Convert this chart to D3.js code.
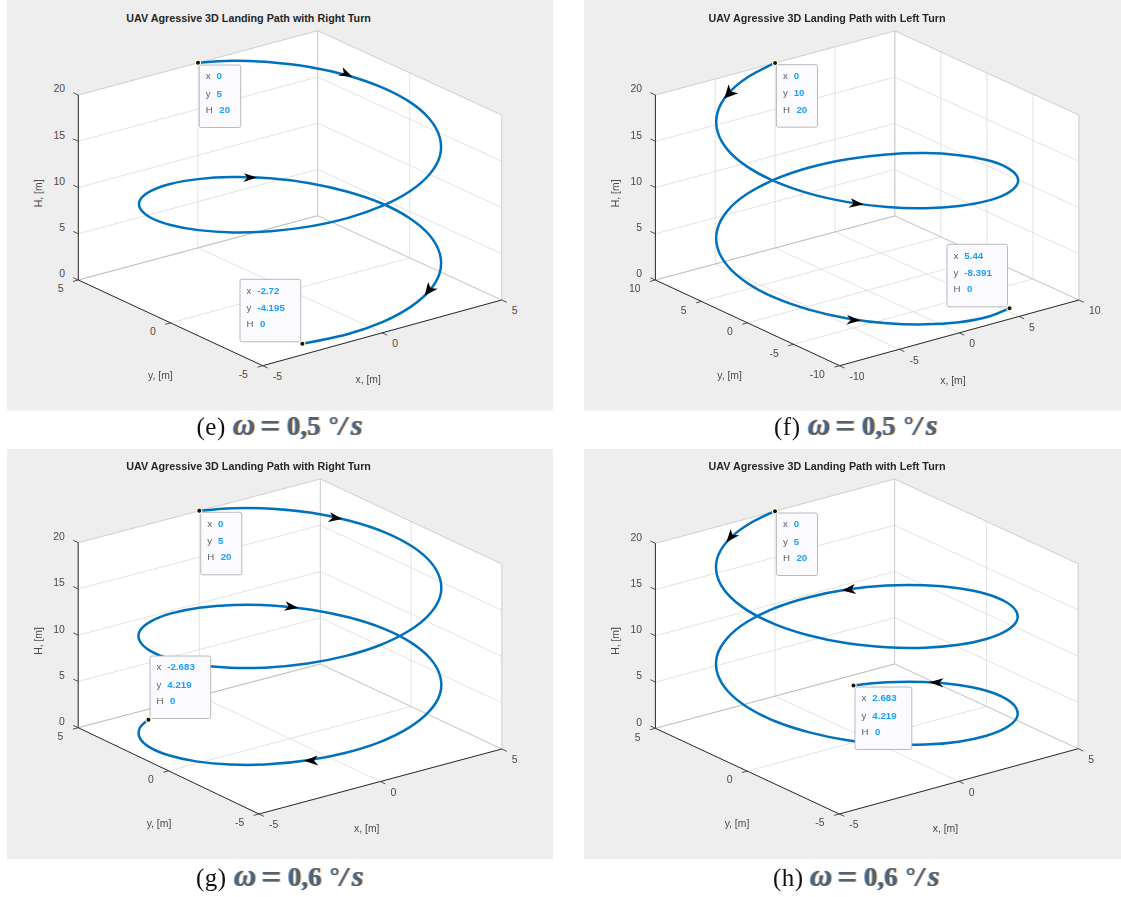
<!DOCTYPE html>
<html><head><meta charset="utf-8">
<script src="https://cdn.jsdelivr.net/npm/d3@7/dist/d3.min.js"></script>
<style>
html,body{margin:0;padding:0;background:#fff;overflow:hidden}
svg{display:block;filter:blur(0.3px)}
text{font-family:"Liberation Sans",Arial,sans-serif}
.tick{font-size:10.4px;fill:#4a4a4a}
.axl{font-size:10.4px;fill:#4a4a4a}
.title{font-size:10.75px;font-weight:bold;fill:#262626}
.tipL{font-size:9.7px;fill:#606060}
.tipV{font-size:9.7px;font-weight:bold;fill:#1a9fff}
.capA{font-family:"Liberation Serif",serif;font-size:25px;letter-spacing:.5px;fill:#111}
.capB{font-family:"Liberation Serif",serif;font-size:25px;font-weight:bold;fill:#56616e;text-shadow:0.9px 0 0 rgba(225,150,60,.6),-0.9px 0 0 rgba(50,120,215,.6)}
</style></head><body>
<script>
// ---- readings ----
const tickH=[0,5,10,15,20];
const ticksFive=[-5,0,5];
const ticksTen=[-10,-5,0,5,10];

const ePathX=[0,1.29,2.5,3.54,4.33,4.83,5,4.83,4.33,3.54,2.5,1.29,0,-1.29,-2.5,-3.54,-4.33,-4.83,-5,-4.83,-4.33,-3.54,-2.5,-1.29,0,1.29,2.5,3.54,4.33,4.83,5,4.83,4.33,3.54,2.5,1.29,0,-1.29,-2.72];
const ePathY=[5,4.83,4.33,3.54,2.5,1.29,0,-1.29,-2.5,-3.54,-4.33,-4.83,-5,-4.83,-4.33,-3.54,-2.5,-1.29,0,1.29,2.5,3.54,4.33,4.83,5,4.83,4.33,3.54,2.5,1.29,0,-1.29,-2.5,-3.54,-4.33,-4.83,-5,-4.83,-4.195];
const ePathH=[20,19.48,18.95,18.43,17.91,17.38,16.86,16.34,15.81,15.29,14.76,14.24,13.72,13.19,12.67,12.15,11.62,11.1,10.58,10.05,9.53,9,8.48,7.96,7.43,6.91,6.39,5.86,5.34,4.82,4.29,3.77,3.25,2.72,2.2,1.68,1.15,0.63,0];

const fPathX=[0,-2.59,-5,-7.07,-8.66,-9.66,-10,-9.66,-8.66,-7.07,-5,-2.59,0,2.59,5,7.07,8.66,9.66,10,9.66,8.66,7.07,5,2.59,0,-2.59,-5,-7.07,-8.66,-9.66,-10,-9.66,-8.66,-7.07,-5,-2.59,0,2.59,5.44];
const fPathY=[10,9.66,8.66,7.07,5,2.59,0,-2.59,-5,-7.07,-8.66,-9.66,-10,-9.66,-8.66,-7.07,-5,-2.59,0,2.59,5,7.07,8.66,9.66,10,9.66,8.66,7.07,5,2.59,0,-2.59,-5,-7.07,-8.66,-9.66,-10,-9.66,-8.391];
const fPathH=[20,19.48,18.95,18.43,17.91,17.38,16.86,16.34,15.81,15.29,14.76,14.24,13.72,13.19,12.67,12.15,11.62,11.1,10.58,10.05,9.53,9,8.48,7.96,7.43,6.91,6.39,5.86,5.34,4.82,4.29,3.77,3.25,2.72,2.2,1.68,1.15,0.63,0];

const gPathX=[0,1.29,2.5,3.54,4.33,4.83,5,4.83,4.33,3.54,2.5,1.29,0,-1.29,-2.5,-3.54,-4.33,-4.83,-5,-4.83,-4.33,-3.54,-2.5,-1.29,0,1.29,2.5,3.54,4.33,4.83,5,4.83,4.33,3.54,2.5,1.29,0,-1.29,-2.5,-3.54,-4.33,-4.83,-5,-4.83,-4.33,-3.54,-2.683];
const gPathY=[5,4.83,4.33,3.54,2.5,1.29,0,-1.29,-2.5,-3.54,-4.33,-4.83,-5,-4.83,-4.33,-3.54,-2.5,-1.29,0,1.29,2.5,3.54,4.33,4.83,5,4.83,4.33,3.54,2.5,1.29,0,-1.29,-2.5,-3.54,-4.33,-4.83,-5,-4.83,-4.33,-3.54,-2.5,-1.29,0,1.29,2.5,3.54,4.219];
const gPathH=[20,19.56,19.13,18.69,18.25,17.82,17.38,16.95,16.51,16.07,15.64,15.2,14.76,14.33,13.89,13.46,13.02,12.58,12.15,11.71,11.27,10.84,10.4,9.96,9.53,9.09,8.66,8.22,7.78,7.35,6.91,6.47,6.04,5.6,5.17,4.73,4.29,3.86,3.42,2.98,2.55,2.11,1.68,1.24,0.8,0.37,0];

const hPathX=[0,-1.29,-2.5,-3.54,-4.33,-4.83,-5,-4.83,-4.33,-3.54,-2.5,-1.29,0,1.29,2.5,3.54,4.33,4.83,5,4.83,4.33,3.54,2.5,1.29,0,-1.29,-2.5,-3.54,-4.33,-4.83,-5,-4.83,-4.33,-3.54,-2.5,-1.29,0,1.29,2.5,3.54,4.33,4.83,5,4.83,4.33,3.54,2.683];
const hPathY=[5,4.83,4.33,3.54,2.5,1.29,0,-1.29,-2.5,-3.54,-4.33,-4.83,-5,-4.83,-4.33,-3.54,-2.5,-1.29,0,1.29,2.5,3.54,4.33,4.83,5,4.83,4.33,3.54,2.5,1.29,0,-1.29,-2.5,-3.54,-4.33,-4.83,-5,-4.83,-4.33,-3.54,-2.5,-1.29,0,1.29,2.5,3.54,4.219];
const hPathH=[20,19.56,19.13,18.69,18.25,17.82,17.38,16.95,16.51,16.07,15.64,15.2,14.76,14.33,13.89,13.46,13.02,12.58,12.15,11.71,11.27,10.84,10.4,9.96,9.53,9.09,8.66,8.22,7.78,7.35,6.91,6.47,6.04,5.6,5.17,4.73,4.29,3.86,3.42,2.98,2.55,2.11,1.68,1.24,0.8,0.37,0];

const eArrowX=[4.41,2.11,2.15], eArrowY=[2.35,4.53,-4.51], eArrowH=[17.84,6.56,2.04];
const fArrowX=[-5.52,-6.29,-6.43], fArrowY=[8.34,-7.77,-7.66], fArrowH=[18.83,15.08,2.55];
const gArrowX=[4.19,3.21,-2.6], gArrowY=[2.72,3.83,-4.27], gArrowH=[18.34,8.36,3.38];
const hArrowX=[-2.58,2.35,4.41], hArrowY=[4.29,4.41,2.35], hArrowH=[19.1,10.34,0.86];

const titleRight="UAV Agressive 3D Landing Path with Right Turn";
const titleLeft="UAV Agressive 3D Landing Path with Left Turn";

const eTipValues=[["0","5","20"],["-2.72","-4.195","0"]];
const fTipValues=[["0","10","20"],["5.44","-8.391","0"]];
const gTipValues=[["0","5","20"],["-2.683","4.219","0"]];
const hTipValues=[["0","5","20"],["2.683","4.219","0"]];

// ---- layout ----
const panels=[
 {bg:[7,0,546,410.5],front:[262.7,365.7],left:[78.3,280],right:[501.7,300],back:[317.7,215.7],top:185,domain:[-5,5],ticks:ticksFive,
  X:ePathX,Y:ePathY,H:ePathH,aX:eArrowX,aY:eArrowY,aH:eArrowH,title:titleRight,titleX:248.6,titleY:18,
  heads:[[[-14.3,-1.3],[-9.6,-9.7]],[[-13.2,-4.3],[-13.9,4.3]],[[3.6,-13.7],[13.2,-7]]],
  tips:eTipValues,boxes:[[199.3,65,41.4],[240,279.3,60.7]],
  hLab:[38.2,193.3],yLab:[160.4,375.7],xLab:[368.2,379.7],
  cap:"(e)",capX:196.5,capY:435,omega:"ω",digits:"0,5",formX:233},
 {bg:[584,0,537,410.5],front:[839.6,365.7],left:[655.4,280],right:[1078.9,300],back:[894.8,215.9],top:185,domain:[-10,10],ticks:ticksTen,
  X:fPathX,Y:fPathY,H:fPathH,aX:fArrowX,aY:fArrowY,aH:fArrowH,title:titleLeft,titleX:827,titleY:18,
  heads:[[[4.3,-14.3],[13.9,-5.3]],[[-12.5,-6.3],[-15,3.3]],[[-13.6,-5.3],[-14.3,4]]],
  tips:fTipValues,boxes:[[776.4,64.7,41.1],[947,244.3,60.5]],
  hLab:[615.4,193.3],yLab:[729.6,375.7],xLab:[952.9,380.7],
  cap:"(f)",capX:774,capY:435,omega:"ω",digits:"0,5",formX:808},
 {bg:[7,449,546,410],front:[259,814],left:[78.2,727.7],right:[501.8,749],back:[320.4,664],top:185,domain:[-5,5],ticks:ticksFive,
  X:gPathX,Y:gPathY,H:gPathH,aX:gArrowX,aY:gArrowY,aH:gArrowH,title:titleRight,titleX:248.6,titleY:466,
  heads:[[[-11.8,-6.7],[-14.3,3]],[[-12.5,-6.7],[-14.3,2.7]],[[13.6,-5.3],[14.3,4.7]]],
  tips:gTipValues,boxes:[[200.7,512.3,41.1],[150,656,60.7]],
  hLab:[38.2,641],yLab:[159,823.7],xLab:[366.8,828.7],
  cap:"(g)",capX:196,capY:885.5,omega:"ω",digits:"0,6",formX:234},
 {bg:[584,449,537,410],front:[839.3,814],left:[655.4,728.3],right:[1078.2,748.7],back:[894.6,664],top:185,domain:[-5,5],ticks:ticksFive,
  X:hPathX,Y:hPathY,H:hPathH,aX:hArrowX,aY:hArrowY,aH:hArrowH,title:titleLeft,titleX:827,titleY:466,
  heads:[[[4.3,-13],[12.9,-7]],[[12.5,-6.3],[14.3,3.7]],[[14.3,-4],[14.3,5.3]]],
  tips:hTipValues,boxes:[[776.4,513,41.1],[855,687,56.8]],
  hLab:[615.4,641],yLab:[737,823.7],xLab:[945.4,828.7],
  cap:"(h)",capX:773,capY:885.5,omega:"ω",digits:"0,6",formX:810}
];

const svg=d3.select("body").append("svg").attr("width",1121).attr("height",897);
const gridCol="#dcdcdc", edgeCol="#cfcfcf", axisCol="#2b2b2b", lineCol="#0072bd";

panels.forEach(p=>{
  const g=svg.append("g");
  g.append("rect").attr("x",p.bg[0]).attr("y",p.bg[1]).attr("width",p.bg[2]).attr("height",p.bg[3]).attr("fill","#eeeeee");
  const sx=d3.scaleLinear().domain(p.domain).range([0,1]);
  const sy=d3.scaleLinear().domain(p.domain).range([0,1]);
  const sh=d3.scaleLinear().domain([0,20]).range([0,p.top]);
  const [d0,d1]=p.domain;
  const proj=(x,y,h)=>{
    const u=sx(x), v=sy(y);
    const mix=k=>(1-u)*(1-v)*p.front[k]+u*(1-v)*p.right[k]+(1-u)*v*p.left[k]+u*v*p.back[k];
    return [mix(0),mix(1)-sh(h)];
  };
  const seg=(a,b,col,w)=>g.append("line").attr("x1",a[0]).attr("y1",a[1]).attr("x2",b[0]).attr("y2",b[1]).attr("stroke",col).attr("stroke-width",w||0.8);
  const poly=pts=>g.append("polygon").attr("points",pts.map(q=>q.join(",")).join(" ")).attr("fill","#fff");
  // walls and floor
  poly([proj(d0,d1,0),proj(d1,d1,0),proj(d1,d0,0),proj(d0,d0,0)]);
  poly([proj(d0,d1,0),proj(d1,d1,0),proj(d1,d1,20),proj(d0,d1,20)]);
  poly([proj(d1,d1,0),proj(d1,d0,0),proj(d1,d0,20),proj(d1,d1,20)]);
  // grid
  p.ticks.forEach(t=>{
    seg(proj(t,d0,0),proj(t,d1,0),gridCol);
    seg(proj(d0,t,0),proj(d1,t,0),gridCol);
    seg(proj(t,d1,0),proj(t,d1,20),gridCol);
    seg(proj(d1,t,0),proj(d1,t,20),gridCol);
  });
  tickH.forEach(t=>{
    seg(proj(d0,d1,t),proj(d1,d1,t),gridCol);
    seg(proj(d1,d1,t),proj(d1,d0,t),gridCol);
  });
  // box edges
  seg(proj(d0,d1,20),proj(d1,d1,20),edgeCol);
  seg(proj(d1,d1,20),proj(d1,d0,20),edgeCol);
  seg(proj(d1,d0,20),proj(d1,d0,0),edgeCol);
  seg(proj(d1,d1,0),proj(d1,d1,20),edgeCol);
  seg(proj(d0,d1,0),proj(d1,d1,0),"#bdbdbd");
  seg(proj(d1,d1,0),proj(d1,d0,0),"#c9c9c9");
  // axes
  seg(proj(d0,d1,0),proj(d0,d1,20),axisCol,1);
  seg(proj(d0,d1,0),proj(d0,d0,0),axisCol,1);
  seg(proj(d0,d0,0),proj(d1,d0,0),axisCol,1);
  const ux=[proj(d1,0,0)[0]-proj(d0,0,0)[0],proj(d1,0,0)[1]-proj(d0,0,0)[1]];
  const uy=[proj(0,d1,0)[0]-proj(0,d0,0)[0],proj(0,d1,0)[1]-proj(0,d0,0)[1]];
  const unit=(v,s)=>{const n=Math.hypot(v[0],v[1]);return [v[0]/n*s,v[1]/n*s];};
  const tx=unit(ux,-5.5), ty=unit(uy,-5.5), tz=unit(uy,5.5);
  p.ticks.forEach(t=>{
    const a=proj(t,d0,0); seg(a,[a[0]+ty[0],a[1]+ty[1]],axisCol,0.8);
    g.append("text").attr("class","tick").attr("x",a[0]+10).attr("y",a[1]+14.3).text(t);
    const b=proj(d0,t,0); seg(b,[b[0]+tx[0],b[1]+tx[1]],axisCol,0.8);
    g.append("text").attr("class","tick").attr("text-anchor","end").attr("x",b[0]-14.8).attr("y",b[1]+12.3).text(t);
  });
  tickH.forEach(t=>{
    const a=proj(d0,d1,t); seg(a,[a[0]+tz[0],a[1]+tz[1]],axisCol,0.8);
    g.append("text").attr("class","tick").attr("text-anchor","end").attr("x",a[0]-13.3).attr("y",a[1]-2.7).text(t);
  });
  // labels
  g.append("text").attr("class","title").attr("text-anchor","middle").attr("x",p.titleX).attr("y",p.titleY+3.7).text(p.title);
  g.append("text").attr("class","axl").attr("text-anchor","middle").attr("transform",`translate(${p.hLab[0]+3.6},${p.hLab[1]}) rotate(-90)`).text("H, [m]");
  g.append("text").attr("class","axl").attr("text-anchor","middle").attr("x",p.yLab[0]).attr("y",p.yLab[1]+3.7).text("y, [m]");
  g.append("text").attr("class","axl").attr("text-anchor","middle").attr("x",p.xLab[0]).attr("y",p.xLab[1]+3.7).text("x, [m]");
  // path
  const pts=p.X.map((x,i)=>proj(x,p.Y[i],p.H[i]));
  g.append("path").attr("d",d3.line().curve(d3.curveCatmullRom.alpha(0))(pts))
    .attr("fill","none").attr("stroke",lineCol).attr("stroke-width",2.5);
  // arrowheads
  p.aX.forEach((x,i)=>{
    const tip=proj(x,p.aY[i],p.aH[i]);
    const [b1,b2]=p.heads[i];
    const m=[(b1[0]+b2[0])/2*0.72,(b1[1]+b2[1])/2*0.72];
    g.append("polygon").attr("points",[[0,0],b1,m,b2].map(o=>[tip[0]+o[0],tip[1]+o[1]].join(",")).join(" ")).attr("fill","#000");
  });
  // data tips
  const endpoints=[0,p.X.length-1];
  endpoints.forEach((idx,k)=>{
    const q=pts[idx], b=p.boxes[k], vals=p.tips[k];
    g.append("rect").attr("x",b[0]).attr("y",b[1]).attr("width",b[2]).attr("height",62.5).attr("rx",2)
      .attr("fill","#fbfbff").attr("stroke","#a8a8a8").attr("stroke-width",0.8);
    ["x","y","H"].forEach((lab,r)=>{
      const yy=b[1]+[14.2,31.5,48][r];
      g.append("text").attr("class","tipL").attr("x",b[0]+6.5).attr("y",yy).text(lab);
      g.append("text").attr("class","tipV").attr("x",b[0]+(lab==="H"?20:17.3)).attr("y",yy).text(vals[r]);
    });
    g.append("circle").attr("cx",q[0]).attr("cy",q[1]).attr("r",3.1).attr("fill","#ffffd6");
    g.append("circle").attr("cx",q[0]).attr("cy",q[1]).attr("r",2).attr("fill","#111");
  });
  // caption
  g.append("text").attr("class","capA").attr("x",p.capX).attr("y",p.capY).text(p.cap);
  const f=g.append("text").attr("class","capB").attr("y",p.capY);
  f.append("tspan").attr("x",p.formX).attr("y",p.capY).attr("font-style","italic").attr("font-size",31).text(p.omega);
  f.append("tspan").attr("x",p.formX+27.5).attr("y",p.capY+3).attr("font-size",35).text("=");
  f.append("tspan").attr("x",p.formX+54).attr("y",p.capY).attr("font-size",27).text(p.digits);
  f.append("tspan").attr("x",p.formX+96).attr("y",p.capY-2).attr("font-size",24).text("°");
  f.append("tspan").attr("x",p.formX+106).attr("y",p.capY).attr("font-style","italic").attr("font-size",28).text("/");
  f.append("tspan").attr("x",p.formX+118).attr("y",p.capY).attr("font-style","italic").attr("font-size",30).text("s");
});
</script>
</body></html>
